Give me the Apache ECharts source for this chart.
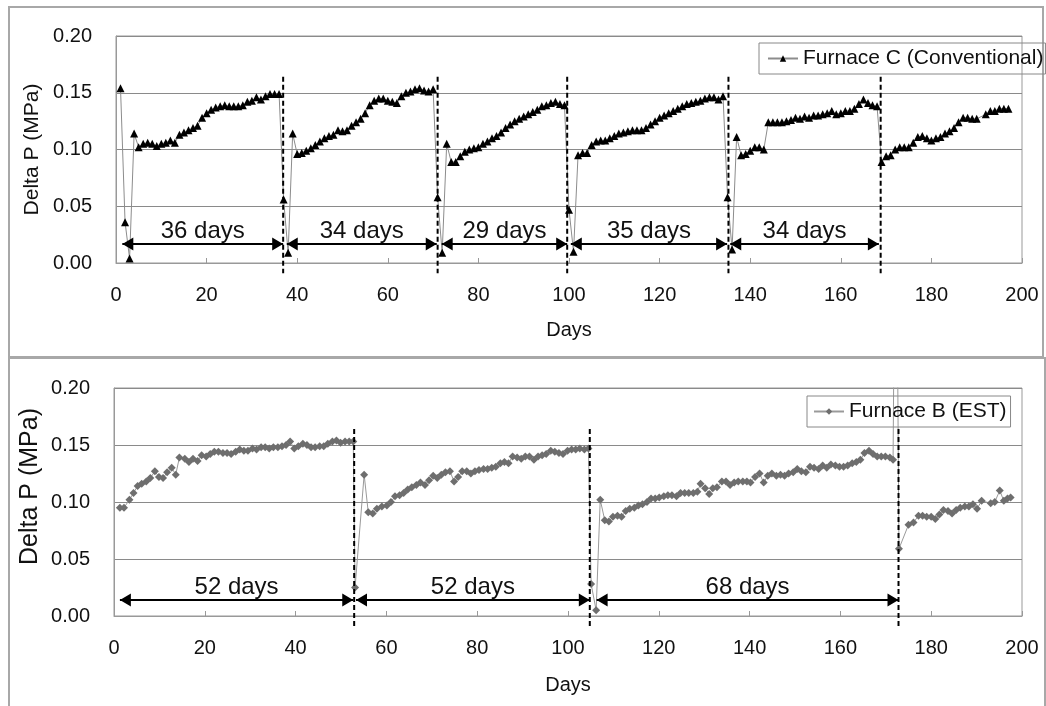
<!DOCTYPE html>
<html>
<head>
<meta charset="utf-8">
<script src="https://cdn.jsdelivr.net/npm/echarts@6/dist/echarts.min.js"></script>
<style>
html,body{margin:0;padding:0;background:#fff;}
#wrap{position:relative;width:1046px;height:706px;overflow:hidden;background:#fff;}
.panel{position:absolute;border:2px solid #a8a8a8;box-sizing:border-box;}
#chart{position:absolute;left:0;top:0;width:1046px;height:706px;}
</style>
</head>
<body>
<div id="wrap">
  <div class="panel" style="left:8px;top:6px;width:1036px;height:352px;"></div>
  <div class="panel" style="left:8px;top:357px;width:1038px;height:360px;"></div>
  <div id="chart"></div>
</div>
<script>
// ---------- DATA ----------
const seriesNameC = 'Furnace C (Conventional)';
const seriesNameB = 'Furnace B (EST)';

const daysC = [1,2,3,4,5,6,7,8,9,10,11,12,13,14,15,16,17,18,19,20,
  21,22,23,24,25,26,27,28,29,30,31,32,33,34,35,36,37,38,39,40,
  41,42,43,44,45,46,47,48,49,50,51,52,53,54,55,56,57,58,59,60,
  61,62,63,64,65,66,67,68,69,70,71,72,73,74,75,76,77,78,79,80,
  81,82,83,84,85,86,87,88,89,90,91,92,93,94,95,96,97,98,99,100,
  101,102,103,104,105,106,107,108,109,110,111,112,113,114,115,116,117,118,119,120,
  121,122,123,124,125,126,127,128,129,130,131,132,133,134,135,136,137,138,139,140,
  141,142,143,144,145,146,147,148,149,150,151,152,153,154,155,156,157,158,159,160,
  161,162,163,164,165,166,167,168,169,170,171,172,173,174,175,176,177,178,179,180,
  181,182,183,184,185,186,187,188,189,190,192,193,194,195,196,197];

const pressureC = [.154,.036,.004,.114,.102,.105,.106,.105,.103,.105,
  .106,.108,.106,.113,.115,.117,.119,.121,.128,.132,
  .135,.137,.138,.139,.138,.138,.138,.139,.142,.143,
  .146,.144,.147,.149,.149,.149,.056,.009,.114,.096,
  .097,.099,.101,.104,.107,.110,.112,.113,.117,.116,
  .117,.121,.124,.127,.132,.139,.143,.145,.145,.143,
  .142,.141,.147,.150,.151,.153,.154,.152,.151,.153,
  .058,.009,.105,.089,.089,.094,.098,.100,.101,.102,
  .105,.107,.110,.112,.115,.119,.122,.125,.127,.129,
  .131,.133,.135,.138,.139,.141,.142,.140,.139,.047,
  .010,.095,.097,.097,.104,.107,.108,.108,.110,.112,
  .114,.115,.116,.117,.117,.117,.119,.122,.125,.128,
  .130,.132,.134,.136,.138,.140,.141,.142,.143,.145,
  .146,.146,.144,.147,.058,.012,.111,.095,.096,.099,
  .102,.102,.100,.124,.124,.124,.124,.125,.126,.128,
  .127,.129,.128,.130,.130,.131,.132,.134,.131,.132,
  .134,.134,.136,.140,.144,.141,.139,.138,.089,.094,
  .095,.100,.102,.102,.102,.106,.111,.112,.110,.108,
  .110,.111,.114,.116,.119,.124,.128,.128,.127,.127,
  .131,.134,.134,.136,.136,.136];

const daysB = [1.3,2.2,3.4,4.3,5.2,6.1,7.1,8.0,9.0,9.9,
  10.8,11.7,12.7,13.6,14.4,15.6,16.5,17.4,18.4,19.3,
  20.3,21.2,22.1,23.0,24.0,24.9,25.8,26.8,27.7,28.6,
  29.5,30.5,31.4,32.4,33.3,34.2,35.1,36.1,37.0,37.9,
  38.8,39.7,40.6,41.6,42.5,43.4,44.3,45.3,46.2,47.1,
  48.1,49.0,49.9,50.9,51.8,52.7,
  53.1,55.1,56.0,57.0,57.9,59.0,60.1,61.0,61.9,62.9,
  63.8,64.7,65.6,66.6,67.5,68.5,69.4,70.3,71.2,72.1,
  73.0,74.0,74.9,75.8,76.7,77.7,78.6,79.5,80.4,81.4,
  82.3,83.2,84.1,85.1,86.0,86.9,87.8,88.8,89.7,90.6,
  91.5,92.5,93.4,94.3,95.2,96.2,97.1,98.0,98.9,99.9,
  100.8,101.7,102.6,103.6,104.5,
  105.1,106.2,107.1,108.1,109.0,109.9,110.9,111.8,112.7,113.6,
  114.6,115.5,116.4,117.4,118.3,119.2,120.1,121.1,122.0,122.9,
  123.9,124.8,125.7,126.6,127.6,128.5,129.2,130.2,131.1,131.9,
  132.8,133.9,134.8,135.7,136.6,137.5,138.5,139.4,140.2,141.2,
  142.2,143.1,144.0,144.9,145.9,146.8,147.7,148.6,149.6,150.5,
  151.4,152.4,153.3,154.2,155.2,156.1,157.0,157.9,158.9,159.8,
  160.7,161.6,162.6,163.5,164.4,165.3,166.3,167.2,168.1,169.0,
  169.9,170.9,171.6,
  172.2,172.9,175.0,176.1,177.2,178.1,179.0,180.0,180.9,181.8,
  182.7,183.7,184.6,185.5,186.4,187.4,188.3,189.2,190.1,191.1,
  193.1,194.0,195.1,196.0,196.8,197.5];

const pressureB = [.095,.095,.102,.108,.114,.116,.118,.121,.127,.122,
  .121,.126,.130,.124,.139,.138,.135,.138,.136,.141,
  .140,.142,.144,.144,.143,.143,.142,.144,.146,.145,
  .145,.147,.146,.148,.148,.147,.148,.148,.149,.150,
  .153,.147,.149,.151,.150,.148,.148,.149,.149,.151,
  .153,.154,.152,.153,.153,.153,
  .025,.124,.091,.090,.094,.096,.097,.100,.105,.106,
  .108,.111,.113,.115,.117,.115,.119,.123,.121,.124,
  .126,.127,.118,.122,.127,.127,.125,.127,.128,.129,
  .129,.130,.131,.134,.135,.134,.140,.139,.138,.140,
  .140,.137,.140,.141,.142,.145,.144,.143,.142,.145,
  .146,.146,.147,.146,.147,
  .028,.005,.102,.084,.083,.087,.088,.087,.092,.094,
  .095,.097,.098,.100,.103,.103,.104,.105,.106,.106,
  .105,.108,.108,.108,.108,.109,.116,.112,.107,.112,
  .113,.118,.118,.115,.117,.118,.118,.118,.117,.122,
  .125,.117,.123,.125,.123,.124,.123,.125,.126,.129,
  .127,.126,.131,.130,.129,.132,.130,.133,.132,.131,
  .131,.132,.134,.135,.137,.143,.145,.142,.140,.140,
  .140,.139,.137,
  .45,.059,.080,.082,.088,.088,.087,.087,.085,.089,
  .093,.092,.090,.093,.095,.096,.096,.098,.094,.101,
  .099,.100,.110,.101,.103,.104];

// cleaning (dashed) lines, in days
const cleaningDaysC = [36.9, 71.0, 99.6, 135.2, 168.8];
const cleaningDaysB = [52.9, 104.8, 172.8];
const dashTop = 0.164, dashBottom = -0.009;

// campaign arrows (start day, end day) and their labels
const spanStartC = [1.4, 37.7, 71.9, 100.4, 135.6];
const spanEndC   = [36.9, 70.8, 99.6, 134.9, 168.4];
const spanLabelC = ['36 days', '34 days', '29 days', '35 days', '34 days'];
const arrowLevelC = 0.0167;

const spanStartB = [1.3, 53.3, 106.3];
const spanEndB   = [52.7, 104.8, 172.8];
const spanLabelB = ['52 days', '52 days', '68 days'];
const arrowLevelB = 0.014;

const xTickLabels = [0,20,40,60,80,100,120,140,160,180,200];
const yTickLabels = ['0.00','0.05','0.10','0.15','0.20'];

// ---------- CHART ----------
const FONT = "'Liberation Sans', Arial, Helvetica, sans-serif";
const chart = echarts.init(document.getElementById('chart'), null, {renderer:'canvas'});

function xAxisDef(gi, gap){
  return {
    gridIndex: gi, type:'value', min:0, max:200, interval:20,
    axisLine:{show:true, onZero:false, lineStyle:{color:'#999', width:1}},
    axisTick:{show:true, inside:true, length:5, lineStyle:{color:'#999'}},
    axisLabel:{show:true, fontSize:20, color:'#111', margin:22, fontFamily:FONT,
      formatter: v => String(xTickLabels[Math.round(v/20)])},
    splitLine:{show:false},
    name:'Days', nameLocation:'middle', nameGap:gap, nameMoveOverlap:false,
    nameTextStyle:{fontSize:20, color:'#111', fontFamily:FONT}
  };
}
function yAxisDef(gi, nameSize, gap, pad){
  return {
    gridIndex: gi, type:'value', min:0, max:0.2, interval:0.05,
    axisLine:{show:true, lineStyle:{color:'#999', width:1}},
    axisTick:{show:false},
    axisLabel:{show:true, fontSize:20, color:'#111', margin:24, fontFamily:FONT,
      formatter: v => yTickLabels[Math.round(v/0.05)]},
    splitLine:{show:true, lineStyle:{color:'#8a8a8a', width:1}},
    name:'Delta P (MPa)', nameLocation:'middle', nameGap:gap, nameRotate:90, nameMoveOverlap:false,
    nameTextStyle:{fontSize:nameSize, color:'#111', fontFamily:FONT, padding:pad}
  };
}

function dashedSeries(days, gi){
  return days.map(d => ({
    type:'line', xAxisIndex:gi, yAxisIndex:gi, clip:false, silent:true,
    symbol:'none', z:5, animation:false,
    data:[[d, dashTop],[d, dashBottom]],
    lineStyle:{color:'#000', width:2, type:[5,3]}
  }));
}
function arrowSeries(starts, ends, labels, level, gi){
  return {
    type:'line', xAxisIndex:gi, yAxisIndex:gi, clip:false, silent:true,
    symbol:'none', z:6, animation:false,
    data:[], lineStyle:{opacity:0},
    markLine:{
      silent:true, animation:false,
      symbol:['triangle','triangle'], symbolSize:[13,11],
      symbolOffset:[[0,5.5],[0,5.5]],
      lineStyle:{color:'#000', width:2, type:'solid'},
      itemStyle:{color:'#000'},
      label:{show:true, position:'middle', formatter:'{b}', fontSize:24, color:'#111',
        fontFamily:FONT, distance:1},
      data: starts.map((s,i) => [
        {coord:[s, level], name:labels[i]},
        {coord:[ends[i], level]}
      ])
    }
  };
}

const option = {
  animation:false,
  backgroundColor:'transparent',
  grid:[
    {left:116, top:36, width:906, height:227, show:true, borderColor:'#999', borderWidth:1,
     backgroundColor:'transparent', containLabel:false, outerBoundsMode:'none'},
    {left:114, top:388, width:908, height:228, show:true, borderColor:'#999', borderWidth:1,
     backgroundColor:'transparent', containLabel:false, outerBoundsMode:'none'}
  ],
  xAxis:[ xAxisDef(0, 57), xAxisDef(1, 59) ],
  yAxis:[ yAxisDef(0, 21, 73, [0,0,0,0]), yAxisDef(1, 25, 71, [0,0,0,31]) ],
  legend:[
    {data:[seriesNameC], left:759, top:43, orient:'horizontal',
     padding:[5,2,5,8], borderColor:'#888', borderWidth:1, borderRadius:0,
     itemWidth:30, itemHeight:8, itemGap:0, selectedMode:false,
     textStyle:{fontSize:21, color:'#111', fontFamily:FONT}},
    {data:[seriesNameB], left:807, top:396, orient:'horizontal',
     padding:[5,4,5,6], borderColor:'#888', borderWidth:1, borderRadius:0,
     itemWidth:30, itemHeight:8, itemGap:0, selectedMode:false,
     textStyle:{fontSize:21, color:'#111', fontFamily:FONT}}
  ],
  series:[
    {
      name:seriesNameC, type:'line', xAxisIndex:0, yAxisIndex:0, z:3,
      data: daysC.map((d,i) => [d, pressureC[i]]),
      symbol:'triangle', symbolSize:8, showAllSymbol:true,
      itemStyle:{color:'#000'},
      lineStyle:{color:'#8c8c8c', width:1}
    },
    {
      name:seriesNameB, type:'line', xAxisIndex:1, yAxisIndex:1, z:3, clip:true,
      data: daysB.map((d,i) => [d, pressureB[i]]),
      symbol:'diamond', symbolSize:[8,8], showAllSymbol:true,
      itemStyle:{color:'#6e6e6e'},
      lineStyle:{color:'#9a9a9a', width:1}
    },
    ...dashedSeries(cleaningDaysC, 0),
    ...dashedSeries(cleaningDaysB, 1),
    arrowSeries(spanStartC, spanEndC, spanLabelC, arrowLevelC, 0),
    arrowSeries(spanStartB, spanEndB, spanLabelB, arrowLevelB, 1)
  ]
};
chart.setOption(option);
</script>
</body>
</html>
